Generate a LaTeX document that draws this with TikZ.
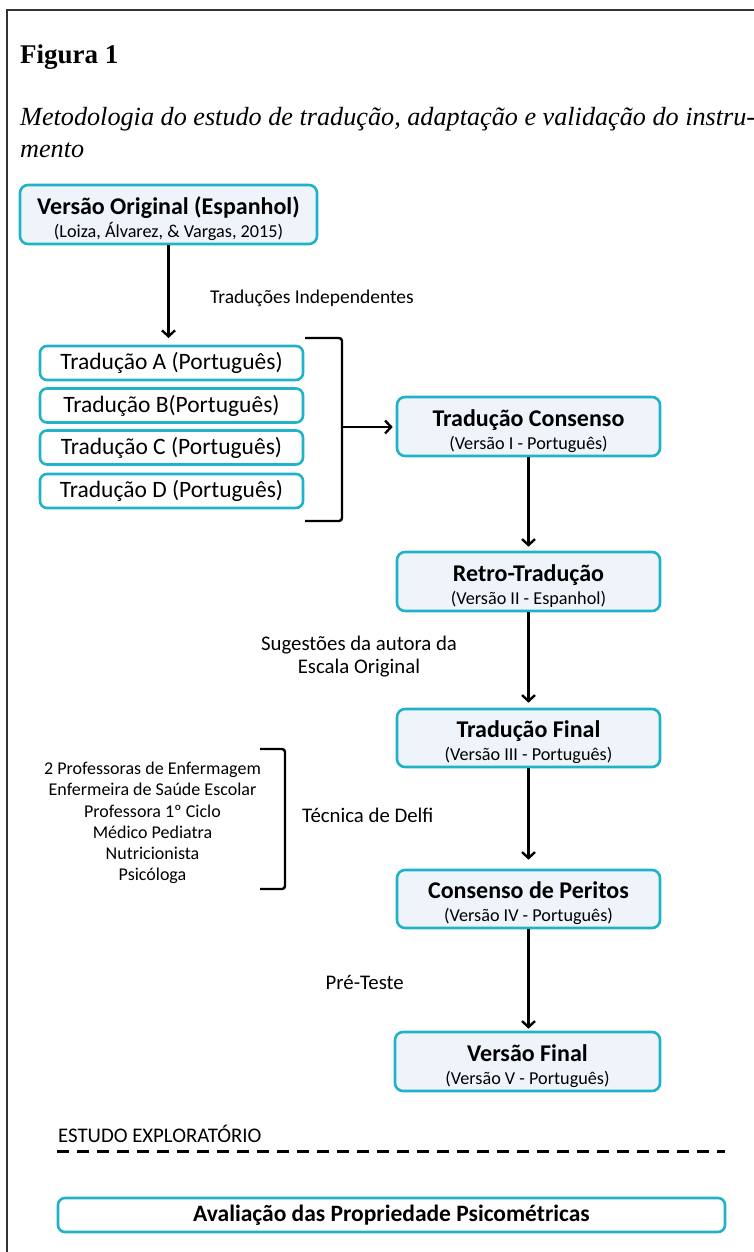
\documentclass[tikz,border=0pt]{standalone}
\usepackage{fontspec}
\setmainfont{Carlito}
\newfontfamily\serifttl{Liberation Serif}
\usetikzlibrary{arrows.meta}
\definecolor{cyanb}{HTML}{1FB2C8}
\definecolor{boxfill}{HTML}{EEF4FA}
\definecolor{framec}{HTML}{333333}
\tikzset{
  box/.style={draw=cyanb, line width=2.6pt, rounded corners=8pt, fill=boxfill, inner sep=0pt, align=center, font=\fontsize{18.2}{23}\selectfont},
  tbox/.style={draw=cyanb, line width=2.6pt, rounded corners=7pt, fill=white, inner sep=0pt, align=center, minimum width=263pt, minimum height=34pt, font=\fontsize{23.5}{26}\selectfont},
  wbox/.style={draw=cyanb, line width=2.6pt, rounded corners=7pt, fill=white, inner sep=0pt, align=center},
  conn/.style={line width=2.4pt, -{Straight Barb[length=6pt,width=13pt,line width=2.4pt]}},
  brk/.style={line width=2.4pt, rounded corners=3pt},
  lbl/.style={inner sep=0pt, font=\fontsize{20.8}{23}\selectfont, align=center}
}
\newcommand{\hdtxt}[1]{{\fontsize{24}{23}\selectfont\bfseries\rule{0pt}{26pt}#1}}
\begin{document}
\begin{tikzpicture}[x=1pt,y=-1pt]
\useasboundingbox (0,0) rectangle (753,1252);
\draw[framec, line width=1.5pt] (760,10) -- (7,10) -- (7,1260);
% titles
\node[anchor=base west, inner sep=0pt, font=\serifttl\fontsize{27}{30}\selectfont\bfseries] (fig) at (20,64) {Figura 1};
\node[anchor=base west, inner sep=0pt, font=\serifttl\fontsize{26.2}{30}\selectfont\itshape] (sub1) at (20,126) {Metodologia do estudo de tradução, adaptação e validação do instru-};
\node[anchor=base west, inner sep=0pt, font=\serifttl\fontsize{26.2}{30}\selectfont\itshape] (sub2) at (20,158) {mento};
% boxes
\node[box, minimum width=297pt, minimum height=59pt] (orig) at (168.5,214.5)
  {\hdtxt{Versão Original (Espanhol)}\\(Loiza, Álvarez, \& Vargas, 2015)};
\node[tbox] (ta) at (171.5,363) {Tradução A (Português)};
\node[tbox] (tb) at (171.5,405.5) {Tradução B(Português)};
\node[tbox] (tc) at (171.5,447.5) {Tradução C (Português)};
\node[tbox] (td) at (171.5,491) {Tradução D (Português)};
\node[box, minimum width=263pt, minimum height=59pt] (cons) at (528.5,426.5)
  {\hdtxt{Tradução Consenso}\\(Versão I - Português)};
\node[box, minimum width=263pt, minimum height=59pt] (retro) at (528.5,581.5)
  {\hdtxt{Retro-Tradução}\\(Versão II - Espanhol)};
\node[box, minimum width=263pt, minimum height=58pt] (final) at (528.5,738)
  {\hdtxt{Tradução Final}\\(Versão III - Português)};
\node[box, minimum width=263pt, minimum height=58pt] (peritos) at (528.5,899)
  {\hdtxt{Consenso de Peritos}\\(Versão IV - Português)};
\node[box, minimum width=265pt, minimum height=59pt] (vfinal) at (527.5,1061.5)
  {\hdtxt{Versão Final}\\(Versão V - Português)};
\node[wbox, minimum width=667pt, minimum height=34pt, font=\fontsize{23.5}{26}\selectfont\bfseries] (aval) at (391.5,1215) {Avaliação das Propriedade Psicométricas};
% labels
\node[lbl, anchor=west, font=\fontsize{19.5}{23}\selectfont] (indep) at (210,298) {Traduções\ Independentes};
\node[lbl] (sug) at (359,657) {Sugestões da autora da\\Escala Original};
\node[lbl, font=\fontsize{18}{21.2}\selectfont] (peritlist) at (152.5,823) {2 Professoras de Enfermagem\\Enfermeira de Saúde Escolar\\Professora 1º Ciclo\\Médico Pediatra\\Nutricionista\\Psicóloga};
\node[lbl, anchor=west] (delfi) at (302,815) {Técnica de Delfi};
\node[lbl, anchor=east] (pre) at (404,982) {Pré-Teste};
\node[lbl, anchor=west] (estudo) at (58,1134) {ESTUDO EXPLORATÓRIO};
% brackets
\coordinate (b1t) at (305,338);
\coordinate (b1b) at (305,521);
\coordinate (b1m) at (342,427);
\draw[brk] (b1t) -- (342,338) -- (342,521) -- (b1b);
\coordinate (b2t) at (260,749);
\coordinate (b2b) at (260,889);
\draw[brk] (b2t) -- (285,749) -- (285,889) -- (b2b);
% connectors
\coordinate (origend) at (168.5,338);
\draw[conn] (orig.south) -- (origend);
\draw[conn] (b1m) -- ([xshift=-3pt]b1m -| cons.west);
\draw[conn] (cons.south) -- ([yshift=4pt]retro.north);
\draw[conn] (retro.south) -- ([yshift=5pt]final.north);
\draw[conn] (final.south) -- ([yshift=9pt]peritos.north);
\draw[conn] (peritos.south) -- ([yshift=2pt,xshift=1pt]vfinal.north);
% dashed separator
\coordinate (dl) at (57,1151);
\coordinate (dr) at (725,1151);
\draw[line width=3pt, dash pattern=on 12pt off 8pt] (dl) -- (dr);
\end{tikzpicture}
\end{document}
